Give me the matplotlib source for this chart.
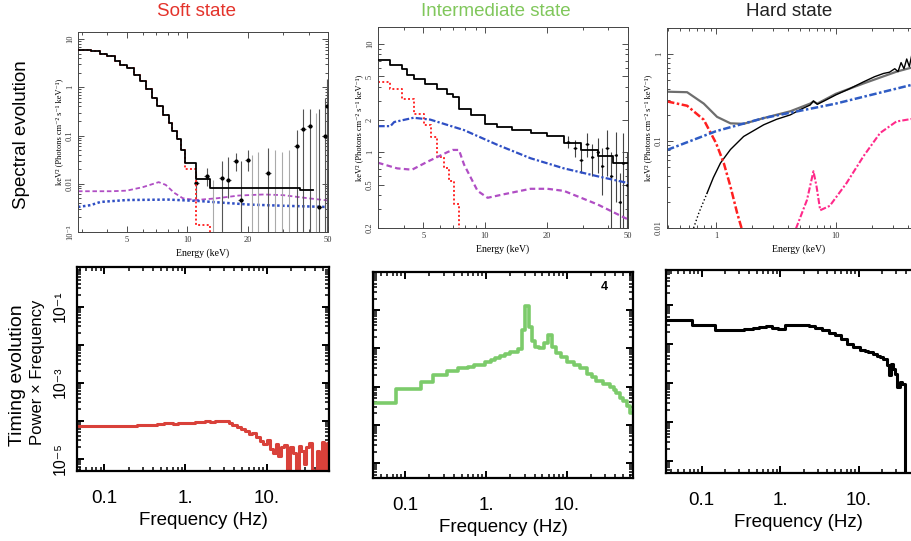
import numpy as np
import matplotlib
matplotlib.use("Agg")
import matplotlib.pyplot as plt
from matplotlib.ticker import FixedLocator, FixedFormatter, LogLocator, NullFormatter

plt.rcParams['font.family'] = ['Liberation Sans', 'DejaVu Sans']
SERIF = ['Liberation Serif', 'DejaVu Serif']

# ---------------- spectra (keV, keV^2 photons) ----------------
# soft state
soft_edges = [2.86, 3.3, 3.68, 3.97, 4.35, 4.6, 5.0, 5.4, 5.8, 6.2, 6.7, 7.1, 7.6,
              8.1, 8.4, 8.9, 9.3, 9.7, 11.0, 12.9, 36.1, 42.3]
soft_total = [6.0, 5.56, 4.97, 4.38, 3.45, 2.94, 2.51, 1.83, 1.33, 0.90, 0.60, 0.40,
              0.27, 0.18, 0.123, 0.083, 0.051, 0.027, 0.0123, 0.0083, 0.0075]
soft_disk_tail = [0.020, 0.0014]
soft_line_e = [2.86, 4.2, 5.0, 6.0, 7.2, 7.8, 8.6, 9.5, 11.0, 14.0, 18.0, 24.0, 30.0, 40.0, 50.0]
soft_line = [0.0070, 0.0070, 0.0072, 0.0085, 0.0108, 0.0095, 0.0065, 0.0050, 0.0046,
             0.0050, 0.0057, 0.0060, 0.0058, 0.0050, 0.0045]
soft_pl_e = [2.86, 3.3, 3.7, 5.0, 8.0, 11.3, 20.4, 30.0, 50.0]
soft_pl = [0.0033, 0.0036, 0.0042, 0.0046, 0.0047, 0.0044, 0.0037, 0.0035, 0.0033]
soft_pt_e = [11.1, 12.5, 14.8, 16.0, 17.4, 18.4, 19.9, 25.2, 34.9, 37.6, 40.6, 45.2, 48.1, 49.6]
soft_pt = [0.0105, 0.0144, 0.0133, 0.012, 0.030, 0.0045, 0.031, 0.017, 0.062, 0.137,
           0.154, 0.0033, 0.10, 0.40]
soft_pt_lo = [0.005, 0.009, 0.0005, 0.005, 0.018, 0.0005, 0.018, 0.0005, 0.0005,
              0.0005, 0.0005, 0.0005, 0.0005, 0.0005]
soft_pt_hi = [0.017, 0.021, 0.030, 0.036, 0.043, 0.030, 0.050, 0.055, 0.13, 0.35,
              0.36, 0.35, 0.6, 1.5]
soft_ul_e = [13.4, 21.0, 22.5, 27.3, 29.6, 32.0, 43.5]
soft_ul_hi = [0.012, 0.040, 0.045, 0.050, 0.045, 0.050, 0.30]

# intermediate state
int_edges = [3.0, 3.45, 3.93, 4.16, 4.48, 5.1, 5.83, 6.54, 7.0, 7.46, 8.5, 10.0, 11.5,
             13.5, 16.7, 20.2, 24.3, 29.5, 35.5, 42.0, 50.0]
int_total = [7.05, 6.38, 5.83, 5.14, 4.73, 4.26, 3.83, 3.45, 3.22, 2.52, 2.19, 1.84,
             1.71, 1.60, 1.52, 1.42, 1.22, 1.05, 0.92, 0.80]
int_disk_edges = [3.0, 3.45, 3.93, 4.48, 5.03, 5.43, 5.84, 6.29, 6.64, 7.03, 7.46]
int_disk = [4.47, 3.83, 3.10, 2.27, 1.77, 1.39, 0.91, 0.71, 0.54, 0.33]
int_line_e = [3.0, 3.72, 4.4, 5.25, 6.54, 6.95, 7.46, 7.9, 9.2, 10.3, 12.4, 16.7, 20.2,
              24.3, 35.5, 50.0]
int_line = [0.80, 0.71, 0.69, 0.82, 1.00, 1.05, 1.05, 0.77, 0.44, 0.38, 0.41, 0.46,
            0.46, 0.44, 0.33, 0.24]
int_pl_e = [3.0, 3.45, 3.6, 4.48, 5.4, 7.9, 11.5, 16.7, 24.3, 35.5, 50.0]
int_pl = [1.74, 1.74, 1.90, 2.08, 2.00, 1.60, 1.17, 0.88, 0.71, 0.60, 0.52]
int_pt_e = [25.5, 27.5, 29.5, 31.5, 33.5, 35.5, 37.5, 39.5, 41.5, 43.5, 45.5, 47.5, 49.5]
int_pt = [1.25, 1.10, 0.85, 1.20, 0.90, 1.00, 0.75, 1.10, 0.60, 0.95, 0.35, 0.80, 0.50]
int_pt_err = [0.15, 0.2, 0.2, 0.3, 0.3, 0.35, 0.35, 0.5, 0.4, 0.6, 0.3, 0.7, 0.5]

# hard state
hard_tot_e = [0.39, 0.574, 0.79, 1.02, 1.32, 1.70, 2.5, 4.16, 6.1, 6.5, 7.0, 10.0, 17.0, 32.2, 61.0]
hard_tot = [0.37, 0.365, 0.27, 0.19, 0.16, 0.158, 0.184, 0.22, 0.27, 0.285, 0.27, 0.35,
            0.46, 0.63, 0.80]
hard_disk_e = [0.39, 0.574, 0.79, 1.0, 1.16, 1.32, 1.50, 1.65]
hard_disk = [0.286, 0.255, 0.176, 0.095, 0.056, 0.030, 0.0149, 0.0095]
hard_pl_e = [0.39, 1.0, 2.5, 10.0, 61.0]
hard_pl = [0.079, 0.13, 0.184, 0.27, 0.50]
hard_refl_e = [4.64, 5.74, 6.5, 6.9, 7.4, 8.9, 12.3, 17.0, 23.4, 32.0, 43.0, 61.0]
hard_refl = [0.0098, 0.021, 0.045, 0.030, 0.016, 0.018, 0.033, 0.067, 0.124, 0.168, 0.18, 0.18]
hard_obs_e = [0.65, 0.72, 0.84, 0.95, 1.09, 1.32, 1.70, 2.5, 3.2, 4.16, 5.2, 6.1, 6.5, 7.0,
              8.0, 10, 13, 17, 21, 25, 28, 31, 33, 35, 37, 39, 41, 43, 46, 50, 55, 61]
hard_obs = [0.010, 0.015, 0.025, 0.038, 0.056, 0.080, 0.113, 0.154, 0.178, 0.20, 0.235,
            0.26, 0.29, 0.265, 0.29, 0.34, 0.40, 0.48, 0.55, 0.60, 0.62, 0.68, 0.63, 0.80,
            0.68, 0.88, 0.72, 0.98, 0.78, 1.0, 0.85, 1.1]

# ---------------- power spectra (Hz, power x frequency) ----------------
soft_f = [0.046, 0.25, 0.30, 0.45, 0.55, 0.70, 0.80, 0.95, 1.1, 1.3, 1.5, 1.75, 2.0, 2.3,
          2.6, 3.0, 3.4, 3.8, 4.3, 4.8, 5.4, 6.0, 6.7, 7.4, 8.2, 9.0, 10, 11, 12, 13, 14,
          15, 16.5, 18, 19.5, 21, 23, 25, 27, 29, 31, 33.5, 36, 39, 42, 45, 48, 51.5, 55, 59]
soft_pds = [7.2e-5, 7.6e-5, 7.8e-5, 8.0e-5, 8.6e-5, 8.2e-5, 8.5e-5, 8.8e-5, 8.6e-5, 9.0e-5,
            9.2e-5, 9.5e-5, 9.3e-5, 9.8e-5, 1.0e-4, 9.6e-5, 8.8e-5, 7.8e-5, 6.8e-5, 6.0e-5,
            5.2e-5, 4.3e-5, 4.6e-5, 3.6e-5, 2.9e-5, 2.4e-5, 3.0e-5, 1.8e-5, 1.4e-5, 2.4e-5,
            1.2e-5, 2.0e-5, 2.3e-5, 3e-6, 2.0e-5, 1.4e-5, 3e-6, 2.2e-5, 1.6e-5, 7e-6,
            2.0e-5, 2.6e-5, 5e-6, 3e-6, 1.6e-5, 3e-6, 2.8e-5, 3e-6, 2.5e-5]
int_f = [0.04, 0.076, 0.155, 0.22, 0.33, 0.45, 0.6, 0.72, 0.96, 1.15, 1.3, 1.5, 1.7, 2.0,
         2.5, 2.8, 3.0, 3.4, 3.7, 4.0, 4.5, 5.3, 5.9, 6.6, 7.3, 8.5, 10, 12.2, 14.5, 17.7,
         20.5, 23.3, 28, 34, 38, 41, 45, 50, 55, 60, 66]
int_pds = [3.8e-4, 8.5e-4, 1.35e-3, 2.0e-3, 2.6e-3, 3.0e-3, 3.3e-3, 3.7e-3, 4.3e-3, 5.0e-3,
           5.5e-3, 6.2e-3, 7.1e-3, 8.0e-3, 9.5e-3, 3.0e-2, 1.3e-1, 3.7e-2, 1.6e-2, 1.1e-2,
           1.0e-2, 1.35e-2, 2.2e-2, 1.1e-2, 7.5e-3, 6.0e-3, 4.5e-3, 3.7e-3, 3.0e-3, 2.2e-3,
           1.8e-3, 1.4e-3, 1.2e-3, 1.0e-3, 8e-4, 6.7e-4, 5.2e-4, 4.2e-4, 3.2e-4, 2e-4]
hard_f = [0.035, 0.075, 0.148, 0.25, 0.35, 0.45, 0.54, 0.65, 0.78, 0.95, 1.16, 1.6, 2.3,
          2.8, 3.4, 4.2, 5.0, 6.0, 7.1, 8.5, 10.5, 12, 13.1, 14, 15.1, 17, 18.6, 20.5,
          22.8, 24, 25.5, 27, 29, 30.5, 33.7, 36, 38.5, 90]
hard_pds = [0.041, 0.030, 0.022, 0.022, 0.024, 0.026, 0.027, 0.028, 0.026, 0.024, 0.030,
            0.030, 0.029, 0.026, 0.022, 0.019, 0.0166, 0.013, 0.010, 0.0085, 0.0069,
            0.0064, 0.0060, 0.0062, 0.0056, 0.0050, 0.0046, 0.0040, 0.0028, 0.0016,
            0.0030, 0.0022, 0.0017, 0.0008, 0.00105, 0.00096, 1e-7]

titles = ['Soft state', 'Intermediate state', 'Hard state']
title_colors = ['#e4332b', '#80c75b', '#222222']
spec_ylabel = 'keV² (Photons cm⁻² s⁻¹ keV⁻¹)'

W, H = 912, 541
fig = plt.figure(figsize=(W / 100, H / 100), dpi=100)


def box(l, t, r, b):
    return [l / W, 1 - b / H, (r - l) / W, (b - t) / H]


def stairs(ax, edges, vals, **kw):
    ax.step(edges, list(vals) + [vals[-1]], where='post', **kw)


def spec_style(ax, xlim, ylim, xt, yt, ytl):
    ax.set_xscale('log')
    ax.set_yscale('log')
    ax.set_xlim(*xlim)
    ax.set_ylim(*ylim)
    ax.xaxis.set_major_locator(FixedLocator(xt))
    ax.xaxis.set_major_formatter(FixedFormatter([f'{v:g}' for v in xt]))
    ax.xaxis.set_minor_locator(LogLocator(base=10, subs=np.arange(2, 10)))
    ax.xaxis.set_minor_formatter(NullFormatter())
    ax.yaxis.set_major_locator(FixedLocator(yt))
    ax.yaxis.set_major_formatter(FixedFormatter(ytl))
    ax.yaxis.set_minor_locator(LogLocator(base=10, subs=np.arange(2, 10)))
    ax.yaxis.set_minor_formatter(NullFormatter())
    ax.tick_params(which='both', direction='in', top=True, right=True, labelsize=6,
                   width=0.6, pad=3, colors='#333333')
    ax.tick_params(which='major', length=4)
    ax.tick_params(which='minor', length=2)
    for lab in ax.get_xticklabels() + ax.get_yticklabels():
        lab.set_family(SERIF)
    for lab in ax.get_yticklabels():
        lab.set_rotation(90)
        lab.set_va('center')
    for s in ax.spines.values():
        s.set_linewidth(0.7)
        s.set_color('#444444')
    ax.set_xlabel('Energy (keV)', fontsize=7, family=SERIF, labelpad=3)
    ax.set_ylabel(spec_ylabel, fontsize=6, family=SERIF, labelpad=2)


def pds_style(ax, xlim, ylim, ylabels=False):
    ax.set_xscale('log')
    ax.set_yscale('log')
    ax.set_xlim(*xlim)
    ax.set_ylim(*ylim)
    ax.xaxis.set_major_locator(FixedLocator([0.1, 1, 10]))
    ax.xaxis.set_major_formatter(FixedFormatter(['0.1', '1.', '10.']))
    ax.xaxis.set_minor_locator(LogLocator(base=10, subs=np.arange(2, 10)))
    ax.xaxis.set_minor_formatter(NullFormatter())
    ax.yaxis.set_major_locator(FixedLocator([1e-5, 1e-4, 1e-3, 1e-2, 1e-1]))
    if ylabels:
        ax.yaxis.set_major_formatter(FixedFormatter(['10⁻⁵', '', '10⁻³', '', '10⁻¹']))
    else:
        ax.yaxis.set_major_formatter(NullFormatter())
    ax.yaxis.set_minor_locator(LogLocator(base=10, subs=np.arange(2, 10)))
    ax.yaxis.set_minor_formatter(NullFormatter())
    ax.tick_params(which='both', direction='in', top=True, right=True)
    ax.tick_params(axis='x', pad=14, labelsize=13.5)
    ax.tick_params(axis='y', pad=7, labelsize=11.5)
    ax.tick_params(which='major', length=5, width=1.4)
    ax.tick_params(which='minor', length=3, width=1.1)
    for lab in ax.get_yticklabels():
        lab.set_rotation(90)
        lab.set_va('center')
    for s in ax.spines.values():
        s.set_linewidth(1.6)
    ax.set_xlabel('Frequency (Hz)', fontsize=13.5, labelpad=3)


# ---- top row: spectra ----
ax = fig.add_axes(box(78, 32, 328, 232))
stairs(ax, soft_edges, soft_total, color='black', lw=1.3, zorder=4)
stairs(ax, soft_edges[:20] + [soft_edges[19]],
       soft_total[:17] + soft_disk_tail + [1e-5], color='#ff2a2a', lw=1.4,
       ls=(0, (1, 1.2)), zorder=3)
ax.plot(soft_line_e, soft_line, color='#b04ec4', lw=1.3, ls=(0, (2.5, 1.5)))
ax.plot(soft_pl_e, soft_pl, color='#2f4fc4', lw=1.8, ls=(0, (1, 1)))
ax.vlines(soft_ul_e, 1e-4, soft_ul_hi, color='#aaaaaa', lw=0.8)
ax.errorbar(soft_pt_e, soft_pt,
            yerr=[np.array(soft_pt) - np.array(soft_pt_lo), np.array(soft_pt_hi) - np.array(soft_pt)],
            xerr=np.array(soft_pt_e) * 0.03, fmt='o', ms=2, color='black',
            ecolor='#555555', elinewidth=0.8, capsize=0)
spec_style(ax, (2.86, 50), (1e-3, 14), [5, 10, 20, 50],
           [1e-3, 1e-2, 1e-1, 1, 10], ['10⁻³', '0.01', '0.1', '1', '10'])

ax = fig.add_axes(box(378, 27, 628, 228))
ax.errorbar(int_pt_e, int_pt, yerr=int_pt_err, xerr=np.array(int_pt_e) * 0.02, fmt='.',
            ms=2, color='black', ecolor='#444444', elinewidth=0.8, capsize=0)
stairs(ax, int_edges, int_total, color='black', lw=1.3, zorder=4)
stairs(ax, int_disk_edges + [int_disk_edges[-1]], int_disk + [0.05], color='#ff2a2a',
       lw=1.4, ls=(0, (1, 1.2)))
ax.plot(int_line_e, int_line, color='#b04ec4', lw=1.6, ls=(0, (2.5, 1.5)))
ax.plot(int_pl_e, int_pl, color='#2f4fc4', lw=1.6, ls=(0, (3, 1, 1, 1)))
spec_style(ax, (3, 50), (0.2, 14.3), [5, 10, 20, 50],
           [0.2, 0.5, 1, 2, 5, 10], ['0.2', '0.5', '1', '2', '5', '10'])

ax = fig.add_axes(box(667, 28, 930, 228))
ax.plot(hard_tot_e, hard_tot, color='#6e6e6e', lw=1.6)
ax.plot(hard_obs_e[:3], hard_obs[:3], color='black', lw=1.0, ls=':')
ax.plot(hard_obs_e[2:], hard_obs[2:], color='black', lw=1.0)
ax.plot(hard_disk_e, hard_disk, color='#ff2020', lw=1.8, ls=(0, (3, 1, 1, 1)))
ax.plot(hard_pl_e, hard_pl, color='#2f5cc4', lw=1.8, ls=(0, (3, 1, 1, 1)))
ax.plot(hard_refl_e, hard_refl, color='#ff2a8a', lw=1.5, ls=(0, (3, 1, 1, 1)))
spec_style(ax, (0.39, 61), (0.01, 2.0), [1, 10], [0.01, 0.1, 1], ['0.01', '0.1', '1'])

# ---- bottom row: power spectra ----
ax = fig.add_axes(box(77, 267, 329, 471))
stairs(ax, soft_f, soft_pds, color='#d9413a', lw=2.2)
pds_style(ax, (0.046, 59), (4.7e-6, 1.1), ylabels=True)

ax = fig.add_axes(box(373, 272, 633, 478))
stairs(ax, int_f, int_pds, color='#7ccb6b', lw=2.6)
pds_style(ax, (0.04, 66), (4.1e-6, 1.0))
ax.text(0.89, 0.925, '4', transform=ax.transAxes, fontsize=9, fontweight='bold',
        ha='center', va='center')

ax = fig.add_axes(box(666, 270, 930, 473))
stairs(ax, hard_f, hard_pds, color='black', lw=2.2)
pds_style(ax, (0.035, 81), (4.9e-6, 0.78))

# ---- titles and row labels ----
for name, col, xc in zip(titles, title_colors, [197, 496, 789]):
    fig.text(xc / W, 1 - 12 / H, name, color=col, fontsize=13.5, ha='center', va='center')
fig.text(22 / W, 1 - 135 / H, 'Spectral evolution', rotation=90, fontsize=13.5,
         ha='center', va='center')
fig.text(18 / W, 1 - 375 / H, 'Timing evolution', rotation=90, fontsize=14,
         ha='center', va='center')
fig.text(38 / W, 1 - 372 / H, 'Power × Frequency', rotation=90, fontsize=12,
         ha='center', va='center')

fig.savefig('out.png', dpi=100)
